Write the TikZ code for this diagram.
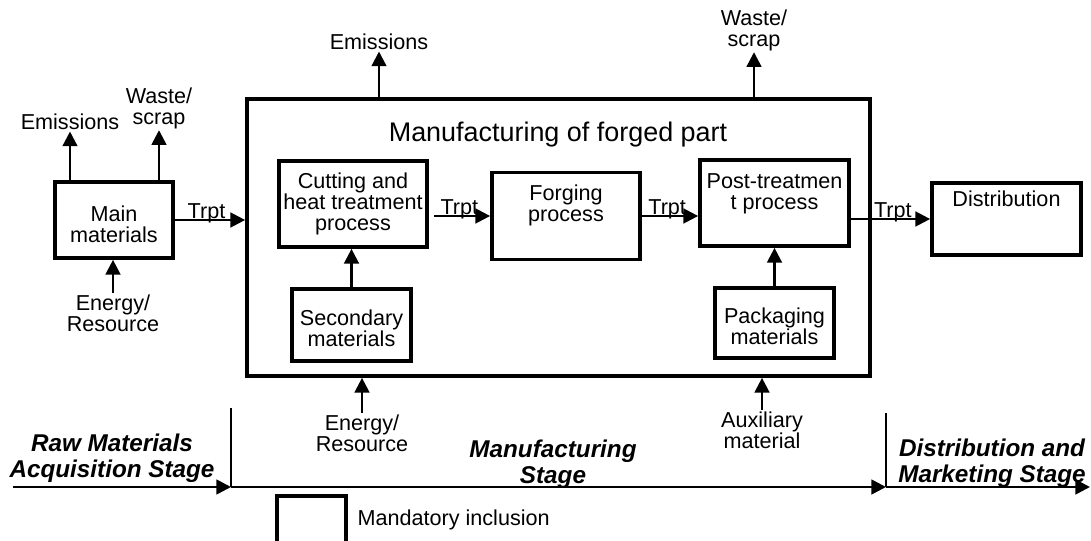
\documentclass[tikz,border=0pt]{standalone}
\usepackage{fontspec}
\setmainfont{Liberation Sans}
\usepackage{tikz}
\usepackage{xcolor}
\usetikzlibrary{arrows.meta}

\newdimen\pix
\pix=0.75pt
\newcommand{\lblfont}{\fontsize{16.2}{15.8}\selectfont}
\newcommand{\stgfont}{\fontsize{18.2}{19.5}\selectfont\bfseries\itshape}

\begin{document}
\begin{tikzpicture}[x=0.75pt,y=-0.75pt]
				%\draw[help lines,step=50] (0,0) grid (1091,541);
				\tikzset{
					box/.style	= {draw, line width=2.8pt, inner sep=0pt, align=center, font=\lblfont},
					lbl/.style	= {align=center, inner sep=1pt, font=\lblfont},
					stg/.style	= {align=center, inner sep=0pt, font=\stgfont},
					arr/.style	= {line width=1.8pt, -{Triangle[length=11pt,width=11pt]}},
					tl/.style	= {line width=2pt, -{Triangle[length=11pt,width=11pt]}},
					div/.style	= {line width=1.5pt},
					trpt/.style	= {pos=0.45, anchor=base, yshift=1.3pt, inner sep=0pt, font=\lblfont}
				}
				\useasboundingbox (0,0) rectangle (1091,541);
				
				% boxes
				\node[box, minimum width=118\pix, minimum height=76\pix] (main) at (114,220) {};
				\node[lbl] (main-t) at (114,224) {Main\\materials};
				\node[box, minimum width=623\pix, minimum height=277\pix] (mfg) at (558.5,237.5) {};
				\node[lbl, font=\fontsize{20.2}{21}\selectfont] (ttl) at (558,135) {Manufacturing of forged part};
				\node[box, minimum width=148\pix, minimum height=86\pix] (cut) at (353,204) {Cutting and\\heat treatment\\process};
				\node[box, minimum width=148\pix, minimum height=87\pix] (forge) at (566,216) {};
				\node[lbl] (forge-t) at (566,205) {Forging\\process};
				\node[box, minimum width=149\pix, minimum height=86\pix] (post) at (774.5,203) {};
				\node[lbl] (post-t) at (774.5,194) {Post-treatmen\\t process};
				\node[box, minimum width=149\pix, minimum height=72\pix] (dist) at (1006.5,219) {};
				\node[lbl] (dist-t) at (1006.5,199) {Distribution};
				\node[box, minimum width=119\pix, minimum height=72\pix] (sec) at (351.5,325) {};
				\node[lbl] (sec-t) at (351.5,328) {Secondary\\materials};
				\node[box, minimum width=119\pix, minimum height=70\pix] (pack) at (774.5,323) {};
				\node[lbl] (pack-t) at (774.5,326) {Packaging\\materials};
				
				% inputs and outputs
				\node[lbl] (em1) at (70,122) {Emissions};
				\node[lbl] (ws1) at (159,108) {Waste/\\scrap};
				\node[lbl] (en1) at (113,313) {Energy/\\Resource};
				\node[lbl] (em2) at (379,42) {Emissions};
				\node[lbl] (ws2) at (754,30) {Waste/\\scrap};
				\node[lbl] (en2) at (362,433) {Energy/\\Resource};
				\node[lbl] (aux) at (762,430) {Auxiliary\\material};
				
				\draw[arr] (main.north -| em1) -- (em1.south);
				\draw[arr] (main.north -| ws1) -- (ws1.south);
				\draw[arr] (en1.north) -- (en1.north |- main.south);
				\draw[arr] (main.east) -- (main.east -| mfg.west) node[trpt]{Trpt};
				\draw[arr] ([xshift=4pt]cut.east |- forge.center) -- (forge.west) node[trpt]{Trpt};
				\draw[arr] (forge.east) -- (forge.east -| post.west) node[trpt]{Trpt};
				\draw[arr] (dist.west -| post.east) -- (dist.west) node[trpt, pos=0.53]{Trpt};
				\draw[arr] (sec.north) -- (sec.north |- cut.south);
				\draw[arr] (pack.north) -- (pack.north |- post.south);
				\draw[arr] (mfg.north -| em2) -- (em2.south);
				\draw[arr] (mfg.north -| ws2) -- (ws2.south);
				\draw[arr] (en2.north) -- (en2.north |- mfg.south);
				\draw[arr] (aux.north) -- (aux.north |- mfg.south);
				
				% life cycle stages
				\coordinate (t0) at (13,487);
				\coordinate (t1) at (231,487);
				\coordinate (t2) at (886,487);
				\coordinate (t3) at (1090,487);
				\draw[tl] (t0) -- (t1);
				\draw[tl] (t1) -- (t2);
				\draw[tl] (t2) -- (t3);
				\draw[div] (t1) -- ++(0,-79);
				\draw[div] (t2) -- ++(0,-74);
				\node[stg] (raw) at (112,458) {Raw Materials\\Acquisition Stage};
				\node[stg] (mst) at (553,464) {Manufacturing\\Stage};
				\node[stg] (dst) at (992,463) {Distribution and\\Marketing Stage};
				
				% legend
				\node[box, minimum width=69\pix, minimum height=60\pix] (lg) at (311.5,526) {};
				\node[lbl, anchor=west] (lg-t) at (356,520) {Mandatory inclusion};
\end{tikzpicture}
\end{document}
